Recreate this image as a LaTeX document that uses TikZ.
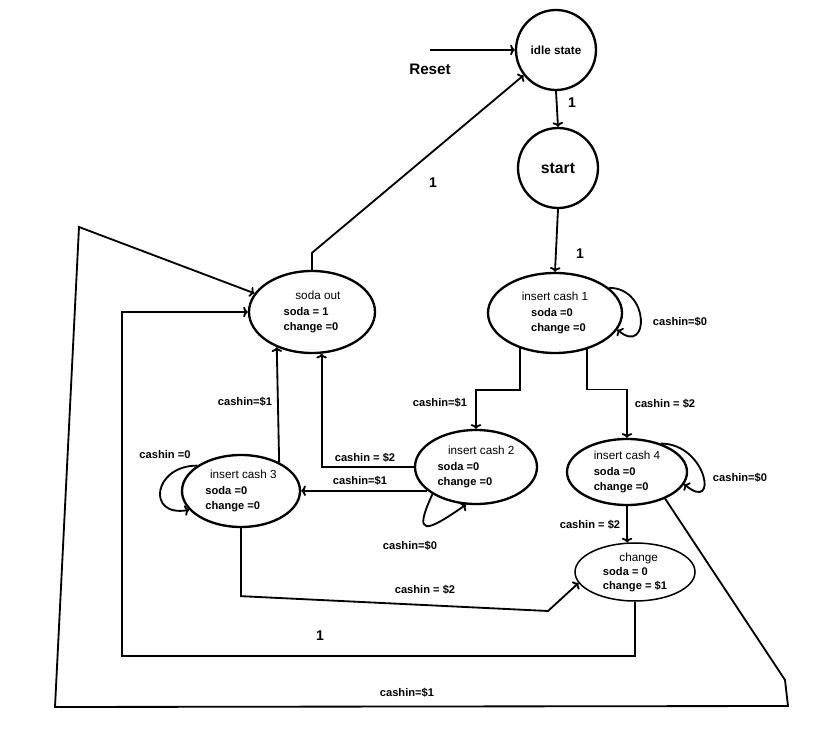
\documentclass[tikz,border=0pt]{standalone}
\usepackage{fontspec}
\setmainfont{Liberation Sans}
\usetikzlibrary{shapes.geometric, arrows.meta}
\begin{document}
\begin{tikzpicture}[x=0.03cm, y=-0.03cm, >={To[length=4pt, width=9pt]},
    state/.style={draw, ellipse, line width = 0.7mm, inner sep=0pt, align=left,
      font=\bfseries\fontsize{9.5}{13.5}\selectfont},
    ring/.style={draw, circle, line width = 0.7mm, inner sep=0pt, minimum size=2.4cm},
    edge/.style={line width = 0.55mm, ->},
    lbl/.style={font=\bfseries\fontsize{9.5}{11}\selectfont},
    one/.style={font=\bfseries\fontsize{12}{14}\selectfont}]
  \useasboundingbox (0,0) rectangle (831,739);

  \node [ring, font=\bfseries\fontsize{10}{12}\selectfont] (idle) at (556, 50) {idle state};
  \node [ring, font=\bfseries\fontsize{13.5}{15}\selectfont] (start) at (558, 168) {start};
  \node [state, minimum width=4.02cm, minimum height=2.4cm] (ic1) at (555, 313)
    {\mdseries\fontsize{10}{13.5}\selectfont insert cash 1\\\hspace*{8pt}soda =0\\\hspace*{8pt}change =0};
  \node [state, minimum width=3.78cm, minimum height=2.46cm] (so) at (312, 312)
    {\mdseries\fontsize{10}{13.5}\selectfont\hspace*{10pt}soda out\\soda = 1\\change =0};
  \node [state, minimum width=3.66cm, minimum height=2.22cm] (ic2) at (476, 467)
    {\mdseries\fontsize{10}{13.5}\selectfont\hspace*{9pt}insert cash 2\\soda =0\\change =0};
  \node [state, minimum width=3.54cm, minimum height=2.16cm] (ic3) at (241, 491)
    {\mdseries\fontsize{10}{13.5}\selectfont\hspace*{4pt}insert cash 3\\soda =0\\change =0};
  \node [state, minimum width=3.6cm, minimum height=1.98cm] (ic4) at (627, 472)
    {\mdseries\fontsize{10}{13.5}\selectfont insert cash 4\\soda =0\\change =0};
  \node [state, minimum width=3.6cm, minimum height=1.74cm, line width = 0.45mm,
    font=\bfseries\fontsize{9.5}{12}\selectfont] (ch) at (635, 572)
    {\mdseries\fontsize{10}{12}\selectfont\hspace*{14pt}change\\soda = 0\\change = \$1};

  \coordinate (rs) at (430, 50);
  \coordinate (k1) at (548, 611);
  \coordinate (k2) at (785, 680);
  \coordinate (k3) at (788, 706);
  \coordinate (k4) at (55, 707);
  \coordinate (k5) at (79, 227);
  \coordinate (k6) at (122, 656);

  \draw [edge] (rs) -- (idle.west);
  \draw [edge] (idle.south) -- (start.north);
  \draw [edge] (start.south) -- (ic1.north);
  \draw [edge] (so.north) -- ++(0,-17) -- (idle.218);
  \draw [edge] (ic1.225) -- ++(0,42) -| (ic2.north);
  \draw [edge] (ic1.311) -- ++(0,40) -| (ic4.north);
  \draw [edge] (ic2.west) -| (so.283);
  \draw [edge] (ic2.206) -- (ic2.206 -| ic3.east);
  \draw [edge] (ic3.37) -- (so.225);
  \draw [edge] (ic3.south) -- ++(0,68) -- (k1) -- (ch.191);
  \draw [edge] (ic4.south) -- (ch.105);
  \draw [edge] (ch.south) |- (k6) |- (so.west);
  \draw [edge] (ic4.-35) -- (k2) -- (k3) -- (k4) -- (k5) -- (so.162);

  \draw [edge] (ic1.25) to[out=0, in=-40, looseness=2.5] (ic1.-15);
  \draw [edge] (ic4.40) to[out=0, in=-40, looseness=2.5] (ic4.-12);
  \draw [edge] (ic2.212) to[out=245, in=215, looseness=3.5] (ic2.255);
  \draw [edge] (ic3.150) to[out=180, in=190, looseness=2.5] (ic3.200);

  \node [font=\bfseries\fontsize{13}{15}\selectfont] (reset) at (430, 69) {Reset};
  \node [one] (o1) at (572, 103) {1};
  \node [one] (o2) at (580, 254) {1};
  \node [one] (o3) at (433, 183) {1};
  \node [one] (o4) at (320, 636) {1};
  \node [lbl] (l1) at (680, 322) {cashin=\$0};
  \node [lbl] (l2) at (440, 403) {cashin=\$1};
  \node [lbl] (l3) at (665, 404) {cashin = \$2};
  \node [lbl] (l4) at (245, 402) {cashin=\$1};
  \node [lbl] (l5) at (365, 458) {cashin = \$2};
  \node [lbl] (l6) at (360, 481) {cashin=\$1};
  \node [lbl] (l7) at (165, 455) {cashin =0};
  \node [lbl] (l8) at (410, 546) {cashin=\$0};
  \node [lbl] (l9) at (740, 478) {cashin=\$0};
  \node [lbl] (l10) at (590, 525) {cashin = \$2};
  \node [lbl] (l11) at (425, 590) {cashin = \$2};
  \node [lbl] (l12) at (407, 693) {cashin=\$1};
\end{tikzpicture}
\end{document}
